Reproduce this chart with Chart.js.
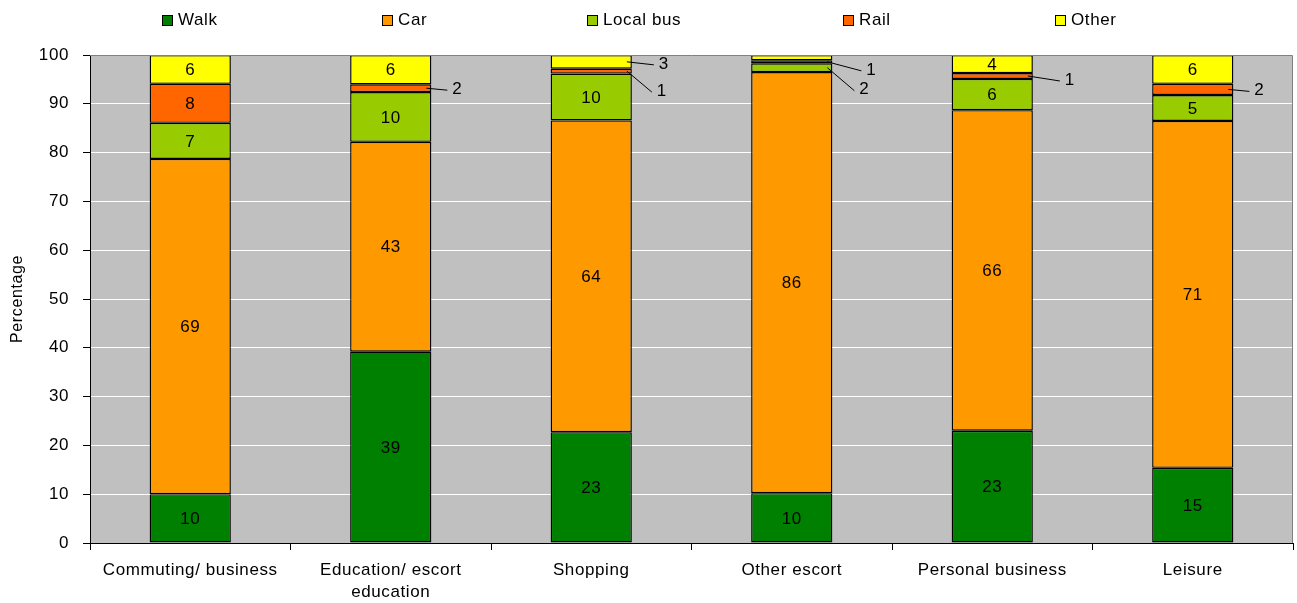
<!DOCTYPE html>
<html>
<head>
<meta charset="utf-8">
<script src="https://cdn.jsdelivr.net/npm/chart.js@4/dist/chart.umd.min.js"></script>
<style>
  html, body { margin: 0; padding: 0; background: #ffffff; }
  #wrap { width: 1297px; height: 603px; }
</style>
</head>
<body>
<div id="wrap"><canvas id="modeChart"></canvas></div>
<script>
var categories = ["Commuting/ business", ["Education/ escort", "education"], "Shopping", "Other escort", "Personal business", "Leisure"];
var seriesNames = ["Walk", "Car", "Local bus", "Rail", "Other"];
var walk = [10, 39.2, 22.7, 10.2, 23, 15.4];
var car = [68.7, 43, 63.9, 86.3, 65.7, 71.1];
var localBus = [7.4, 10.2, 9.6, 1.8, 6.4, 5.3];
var rail = [8, 1.6, 1.0, 0.6, 1.2, 2.3];
var other = [5.9, 6, 2.8, 1.1, 3.7, 5.9];
var yTicks = [0, 10, 20, 30, 40, 50, 60, 70, 80, 90, 100];

var colours = ["#008000", "#ff9900", "#99cc00", "#ff6600", "#ffff00"];
var FONT = "'Liberation Sans', Arial, sans-serif";
var SPACING = "0.6px";

// labels drawn outside the bar with a leader line: [category, dataset, dx, dy]
var outsideLabels = [
  [1, 3, 25, 0],
  [2, 4, 31, 1], [2, 3, 29, 19],
  [3, 3, 38, 7], [3, 2, 31, 21],
  [4, 3, 36, 3],
  [5, 3, 25, 0]
];
var hiddenLabels = [[3, 4]];
var legendX = [162, 382, 587, 843, 1055];

function isIn(list, c, d) {
  return list.some(function (item) { return item[0] === c && item[1] === d; });
}

var plotBackground = {
  id: "plotBackground",
  beforeDraw: function (chart) {
    var a = chart.chartArea, ctx = chart.ctx;
    ctx.letterSpacing = SPACING;
    ctx.save();
    ctx.fillStyle = "#c0c0c0";
    ctx.fillRect(a.left, a.top, a.right - a.left, a.bottom - a.top);
    ctx.restore();
  },
  afterDatasetsDraw: function (chart) {
    var a = chart.chartArea, ctx = chart.ctx;
    ctx.save();
    ctx.strokeStyle = "#808080";
    ctx.lineWidth = 1;
    ctx.beginPath();
    ctx.moveTo(a.left, a.top + 0.5);
    ctx.lineTo(a.right - 0.5, a.top + 0.5);
    ctx.lineTo(a.right - 0.5, a.bottom);
    ctx.stroke();
    ctx.restore();
  }
};

var segmentLabels = {
  id: "segmentLabels",
  afterDatasetsDraw: function (chart) {
    var ctx = chart.ctx;
    ctx.save();
    ctx.font = "17px " + FONT;
    ctx.fillStyle = "#000000";
    ctx.strokeStyle = "#000000";
    ctx.lineWidth = 1;
    chart.data.datasets.forEach(function (ds, d) {
      chart.getDatasetMeta(d).data.forEach(function (bar, c) {
        if (isIn(hiddenLabels, c, d)) return;
        var text = String(Math.round(ds.data[c]));
        var cy = (bar.y + bar.base) / 2;
        var out = outsideLabels.filter(function (o) { return o[0] === c && o[1] === d; })[0];
        if (out) {
          var right = bar.x + bar.width / 2;
          var lx = right + out[2], ly = cy + out[3];
          ctx.beginPath();
          ctx.moveTo(right - 5, cy);
          ctx.lineTo(lx - 9, ly + 2);
          ctx.stroke();
          ctx.textAlign = "left";
          ctx.textBaseline = "middle";
          ctx.fillText(text, lx - 4, ly + 1);
        } else {
          ctx.textAlign = "center";
          ctx.textBaseline = "middle";
          ctx.fillText(text, bar.x, cy + 1);
        }
      });
    });
    ctx.restore();
  }
};

var topLegend = {
  id: "topLegend",
  afterDraw: function (chart) {
    var ctx = chart.ctx;
    ctx.save();
    ctx.font = "17px " + FONT;
    ctx.textBaseline = "middle";
    ctx.textAlign = "left";
    chart.data.datasets.forEach(function (ds, i) {
      var x = legendX[i];
      ctx.fillStyle = ds.backgroundColor;
      ctx.fillRect(x + 0.5, 15.5, 10, 10);
      ctx.strokeStyle = "#000000";
      ctx.strokeRect(x + 0.5, 15.5, 10, 10);
      ctx.fillStyle = "#000000";
      ctx.fillText(ds.label, x + 16, 20);
    });
    ctx.restore();
  }
};

var seriesData = [walk, car, localBus, rail, other];

new Chart(document.getElementById("modeChart"), {
  type: "bar",
  data: {
    labels: categories,
    datasets: seriesData.map(function (values, i) {
      return {
        label: seriesNames[i],
        data: values,
        backgroundColor: colours[i],
        borderColor: "#000000",
        borderWidth: 1.4,
        borderSkipped: false,
        barPercentage: 1,
        categoryPercentage: 0.405
      };
    })
  },
  options: {
    responsive: true,
    maintainAspectRatio: false,
    animation: false,
    devicePixelRatio: 1,
    layout: { padding: { top: 55, right: 4, left: 0, bottom: 0 } },
    plugins: {
      legend: { display: false },
      tooltip: { enabled: false }
    },
    scales: {
      x: {
        stacked: true,
        afterFit: function (scale) { scale.height = 60; },
        grid: { display: true, drawOnChartArea: false, offset: true, tickLength: 7, tickColor: "#000000" },
        border: { color: "#000000" },
        ticks: { color: "#000000", font: { family: FONT, size: 17, lineHeight: 1.3 }, padding: 9, maxRotation: 0, autoSkip: false }
      },
      y: {
        stacked: true,
        min: 0,
        max: 100,
        afterFit: function (scale) { scale.width = 90; },
        afterBuildTicks: function (scale) {
          scale.ticks = yTicks.map(function (v) { return { value: v }; });
        },
        grid: { color: "#ffffff", tickColor: "#000000", tickLength: 7 },
        border: { color: "#000000" },
        title: { display: true, text: "Percentage", color: "#000000", font: { family: FONT, size: 16 }, padding: { top: 8 } },
        ticks: { color: "#000000", font: { family: FONT, size: 17 }, padding: 14 }
      }
    }
  },
  plugins: [plotBackground, segmentLabels, topLegend]
});
</script>
</body>
</html>
